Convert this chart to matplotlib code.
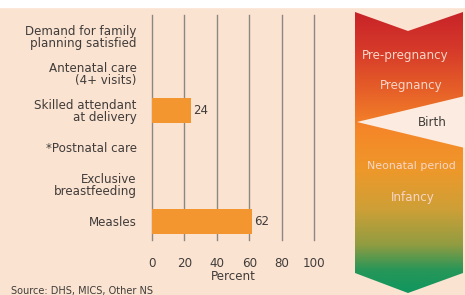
import numpy as np
import matplotlib
matplotlib.use("Agg")
import matplotlib.pyplot as plt
from matplotlib.patches import Polygon, Rectangle

# ── data ──────────────────────────────────────────────────────────────────────
categories = [
    "Demand for family\nplanning satisfied",
    "Antenatal care\n(4+ visits)",
    "Skilled attendant\nat delivery",
    "*Postnatal care",
    "Exclusive\nbreastfeeding",
    "Measles",
]
values = [np.nan, np.nan, 24, np.nan, np.nan, 62]
x_ticks = [0, 20, 40, 60, 80, 100]
stages = ["Pre-pregnancy", "Pregnancy", "Birth", "Neonatal period", "Infancy"]

BG = "#fbe3d2"
BAR = "#f4962f"
TXT = "#403c39"
plt.rcParams["font.family"] = ["DejaVu Sans"]

W, H = 465, 295
fig = plt.figure(figsize=(W / 100, H / 100), dpi=100)
fig.patch.set_facecolor(BG)

# ── background canvas in pixel coords ────────────────────────────────────────
bg = fig.add_axes([0, 0, 1, 1])
bg.set_xlim(0, W)
bg.set_ylim(H, 0)
bg.axis("off")
bg.add_patch(Rectangle((0, 0), W, 7, color="white", zorder=0))

# ── bar chart ────────────────────────────────────────────────────────────────
ax = fig.add_axes([152 / W, 1 - 240 / H, 162 / W, 225 / H])
ax.set_facecolor("none")
ypos = np.arange(len(categories))
for y, v in zip(ypos, values):
    if np.isnan(v):
        continue
    ax.barh(y, v, height=0.68, color=BAR, zorder=3)
    ax.text(v + 1.2, y, f"{v:.0f}", va="center", ha="left",
            fontsize=8.5, color=TXT, zorder=4)

ax.set_xlim(0, 100)
ax.set_ylim(len(categories) - 0.49, -0.57)
ax.set_xticks(x_ticks)
ax.set_yticks(ypos)
ax.set_yticklabels(categories, fontsize=8.6, color=TXT, linespacing=0.92)
ax.tick_params(axis="y", length=0, pad=11)
ax.tick_params(axis="x", length=0, pad=12, labelsize=8.6, labelcolor=TXT)
for xt in x_ticks:
    ax.axvline(xt, color="#8d8782", lw=1.0, zorder=1, clip_on=False)
for s in ax.spines.values():
    s.set_visible(False)
ax.set_xlabel("Percent", fontsize=8.6, color=TXT, labelpad=0)

fig.text(11 / W, 1 - 291 / H, "Source: DHS, MICS, Other NS",
         fontsize=7, color=TXT, va="center", ha="left")

# ── life-cycle arrow ─────────────────────────────────────────────────────────
arrow = Polygon([(355, 12), (408, 31), (463, 12), (463, 273),
                 (408, 293), (355, 273)], closed=True,
                facecolor="none", edgecolor="none")
bg.add_patch(arrow)
stops_y = [12, 50, 95, 130, 170, 210, 245, 270, 293]
stops_c = np.array([(200, 35, 40), (214, 58, 42), (232, 100, 40),
                    (245, 135, 40), (238, 152, 42), (205, 160, 55),
                    (145, 156, 65), (40, 150, 88), (15, 150, 95)]) / 255
yy = np.linspace(12, 293, 300)
grad = np.stack([np.interp(yy, stops_y, stops_c[:, k]) for k in range(3)],
                axis=-1)[:, None, :]
im = bg.imshow(grad, extent=[355, 463, 293, 12], aspect="auto", zorder=2)
im.set_clip_path(arrow)
bg.set_xlim(0, W)
bg.set_ylim(H, 0)
bg.add_patch(Polygon([(357, 122), (465, 96), (465, 148)], closed=True,
                     facecolor="#fcebe0", edgecolor="none", zorder=3))

stage_xy = [(405, 55), (411, 86), (432, 123), (411, 166), (413, 197)]
stage_fs = [8.6, 8.6, 8.6, 7.9, 8.6]
for name, (sx, sy), fs in zip(stages, stage_xy, stage_fs):
    col = TXT if name == "Birth" else "#f9d6c8"
    bg.text(sx, sy, name, ha="center", va="center", fontsize=fs,
            color=col, zorder=4)

fig.savefig("out.png", dpi=100, facecolor=fig.get_facecolor())
